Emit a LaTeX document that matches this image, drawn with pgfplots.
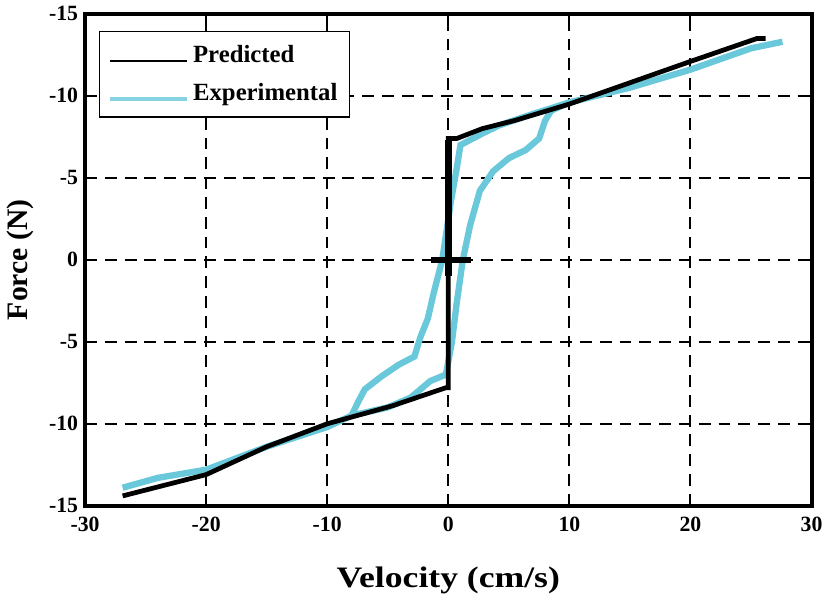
\documentclass[border=0pt]{standalone}
\usepackage{fontspec}
\setmainfont{Liberation Serif}
\usepackage{graphicx}
\usepackage{pgfplots}
\pgfplotsset{compat=1.18}
\definecolor{cyanE}{RGB}{105,200,218}
\begin{document}
\begin{tikzpicture}
\begin{axis}[
  scale only axis, width=367pt, height=248.5pt,
  xmin=-30, xmax=30, ymin=-15, ymax=15,
  xtick={-30,-20,-10,0,10,20,30},
  xticklabels={-30,-20,-10,0,10,20,30},
  ytick={-15,-10,-5,0,5,10,15},
  yticklabels={-15,-10,-5,0,-5,-10,-15},
  grid=major,
  major grid style={black, line width=1pt, dash pattern=on 6pt off 4pt},
  axis line style={line width=2pt},
  tick style={black, line width=1pt},
  major tick length=5pt,
  tick align=inside,
  ticklabel style={font=\bfseries\fontsize{11}{12}\selectfont},
  xticklabel style={yshift=-2pt},
  /pgf/number format/assume math mode=true,
  xlabel={\scalebox{1.2}[1]{Velocity (cm/s)}}, ylabel={Force (N)},
  label style={font=\bfseries\fontsize{15}{18}\selectfont},
  xlabel style={yshift=-11pt},
  ylabel style={yshift=1pt},
  legend style={at={(0.019,0.966)}, anchor=north west, draw=black, line width=0.8pt,
    font=\bfseries\fontsize{12.5}{14}\selectfont, inner xsep=4pt, inner ysep=5pt,
    row sep=5pt},
  legend cell align=left,
  legend image code/.code={\draw[#1] (0pt,-3pt) -- (39pt,-3pt);},
]
% Experimental (cyan)
\addplot[cyanE, line width=3.2pt, forget plot] coordinates {
(-26.9,-13.9) (-24,-13.3) (-20,-12.8) (-15,-11.4) (-10,-10.2) (-8,-9.5)
(-7.4,-8.6) (-6.9,-7.9) (-5.5,-7.1) (-4.1,-6.4) (-2.8,-5.9) (-2.3,-4.7)
(-1.7,-3.6) (-1.2,-2.0) (-0.5,0) (0.2,3.5) (0.7,5.6) (1.0,7.0) (2.8,7.7)
(4.2,8.2) (7,8.9) (10,9.6) (15,10.5) (20,11.6) (25,12.9) (27.6,13.3)
};
\addplot[cyanE, line width=3.2pt, forget plot] coordinates {
(10,9.6) (8.5,9.1) (8,8.5) (7.5,7.4) (6.4,6.7) (5,6.2) (3.7,5.4) (2.6,4.2)
(1.8,2.1) (1.2,0) (0.7,-2.6) (0.3,-5) (-0.2,-7.0) (-1.5,-7.4) (-2.3,-7.9)
(-3.1,-8.4) (-5,-9.0) (-8,-9.5)
};
% Predicted (black)
\addplot[black, line width=2.4pt, forget plot] coordinates {
(-26.9,-14.4) (-20,-13.1) (-15,-11.4) (-10,-10.0) (-4.6,-8.9) (-1.4,-8.1)
(-0.2,-7.8) (0,-7.8) (0,7.4) (0.7,7.4) (2.8,8.0) (5.5,8.5) (10,9.5)
(15,10.8) (20,12.1) (25.5,13.5) (26.2,13.5)
};
\addplot[black, line width=3.8pt, forget plot] coordinates {(0,-1) (0,7.3)};
\addplot[black, line width=2.8pt, forget plot] coordinates {(-1.4,0) (1.9,0)};
\addlegendimage{black, line width=0.9pt}
\addlegendentry{Predicted}
\addlegendimage{cyanE!80!white, line width=2.2pt}
\addlegendentry{Experimental\hspace{14pt}}
\end{axis}
\end{tikzpicture}
\end{document}
